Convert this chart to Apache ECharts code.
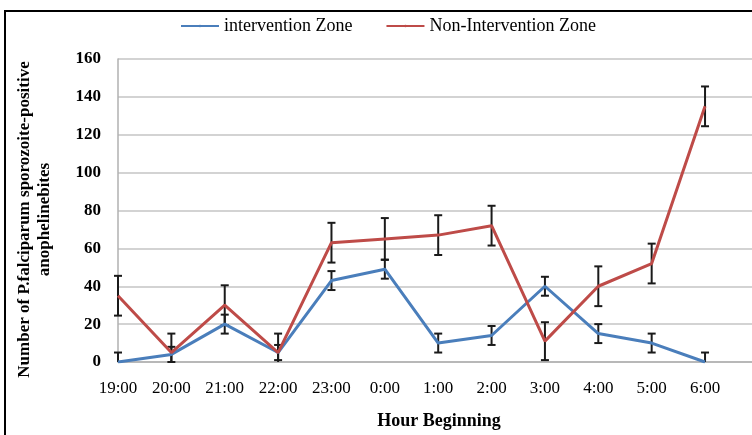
<!DOCTYPE html>
<html>
<head>
<meta charset="utf-8">
<script src="https://cdn.jsdelivr.net/npm/echarts@6/dist/echarts.min.js"></script>
<style>
html,body{margin:0;padding:0;background:#fff;}
#chart{width:752px;height:435px;}
</style>
</head>
<body>
<div id="chart"></div>
<script>
const hours = ['19:00','20:00','21:00','22:00','23:00','0:00','1:00','2:00','3:00','4:00','5:00','6:00'];
const intervention = [0, 4, 20, 5, 43, 49, 10, 14, 40, 15, 10, 0];
const interventionErr = [5, 4, 5, 4, 5, 5, 5, 5, 5, 5, 5, 5];
const nonIntervention = [35, 5, 30, 5, 63, 65, 67, 72, 11, 40, 52, 135];
const nonInterventionErr = [10.5, 10, 10.5, 10, 10.5, 11, 10.5, 10.5, 10, 10.5, 10.5, 10.5];
const yTicks = [0, 20, 40, 60, 80, 100, 120, 140, 160];

const FONT = 'Liberation Serif';
const chart = echarts.init(document.getElementById('chart'), null, {renderer: 'canvas'});

function errData(vals, errs) {
  return vals.map((v, i) => [i, v - errs[i], v + errs[i]]);
}

function renderErr(params, api) {
  const x = api.value(0);
  let lo = api.value(1);
  const hi = api.value(2);
  let loCap = true;
  if (lo < 0) { lo = 0; loCap = false; }
  const pHi = api.coord([x, hi]);
  const pLo = api.coord([x, lo]);
  const cw = 4;
  const st = {stroke: '#1a1a1a', lineWidth: 2};
  const ch = [
    {type: 'line', shape: {x1: pHi[0], y1: pHi[1], x2: pLo[0], y2: pLo[1]}, style: st},
    {type: 'line', shape: {x1: pHi[0] - cw, y1: pHi[1], x2: pHi[0] + cw, y2: pHi[1]}, style: st}
  ];
  if (loCap) ch.push({type: 'line', shape: {x1: pLo[0] - cw, y1: pLo[1], x2: pLo[0] + cw, y2: pLo[1]}, style: st});
  return {type: 'group', children: ch};
}

const option = {
  backgroundColor: '#fff',
  animation: false,
  graphic: [{
    type: 'rect',
    shape: {x: 5, y: 11, width: 800, height: 500},
    style: {fill: 'none', stroke: '#000', lineWidth: 2},
    silent: true, z: 100
  }],
  legend: {
    left: 180, top: 17, padding: 0,
    itemWidth: 38, itemHeight: 3, itemGap: 33,
    textStyle: {fontFamily: FONT, fontSize: 18, color: '#000'},
    data: ['intervention Zone', 'Non-Intervention Zone']
  },
  grid: {left: 118, right: 0, top: 59, bottom: 68},
  xAxis: {
    type: 'value', min: 0, max: 11.88, interval: 1,
    name: 'Hour Beginning', nameLocation: 'middle', nameGap: 50,
    nameTextStyle: {fontFamily: FONT, fontSize: 18, fontWeight: 'bold', color: '#000', padding: [0, 0, 0, 8]},
    axisLine: {show: true, lineStyle: {color: '#b0b0b0', width: 1.5}},
    axisTick: {show: false},
    splitLine: {show: false},
    axisLabel: {
      margin: 18, fontFamily: FONT, fontSize: 17, color: '#000',
      showMaxLabel: false,
      formatter: v => (Number.isInteger(v) && hours[v] !== undefined) ? hours[v] : ''
    }
  },
  yAxis: {
    type: 'value', min: yTicks[0], max: yTicks[yTicks.length - 1], interval: 20,
    name: 'Number of P.falciparum sporozoite-positive\nanophelinebites',
    nameLocation: 'middle', nameRotate: 90, nameGap: 63,
    nameTextStyle: {fontFamily: FONT, fontSize: 17, fontWeight: 'bold', color: '#000', lineHeight: 20, align: 'center', padding: [0, 18, 0, 0]},
    axisLine: {show: true, lineStyle: {color: '#b0b0b0', width: 1.5}},
    axisTick: {show: false},
    splitLine: {show: true, lineStyle: {color: '#c4c4c4', width: 1.5}},
    axisLabel: {margin: 17, fontFamily: FONT, fontSize: 17, fontWeight: 'bold', color: '#000'}
  },
  series: [
    {
      type: 'custom', name: 'errI', renderItem: renderErr,
      data: errData(intervention, interventionErr), z: 3, silent: true
    },
    {
      type: 'custom', name: 'errN', renderItem: renderErr,
      data: errData(nonIntervention, nonInterventionErr), z: 3, silent: true
    },
    {
      type: 'line', name: 'intervention Zone',
      data: intervention.map((v, i) => [i, v]),
      symbol: 'none', color: '#4a7ebb',
      lineStyle: {color: '#4a7ebb', width: 3}, z: 4
    },
    {
      type: 'line', name: 'Non-Intervention Zone',
      data: nonIntervention.map((v, i) => [i, v]),
      symbol: 'none', color: '#be4b48',
      lineStyle: {color: '#be4b48', width: 3}, z: 5
    }
  ]
};
chart.setOption(option);
</script>
</body>
</html>
